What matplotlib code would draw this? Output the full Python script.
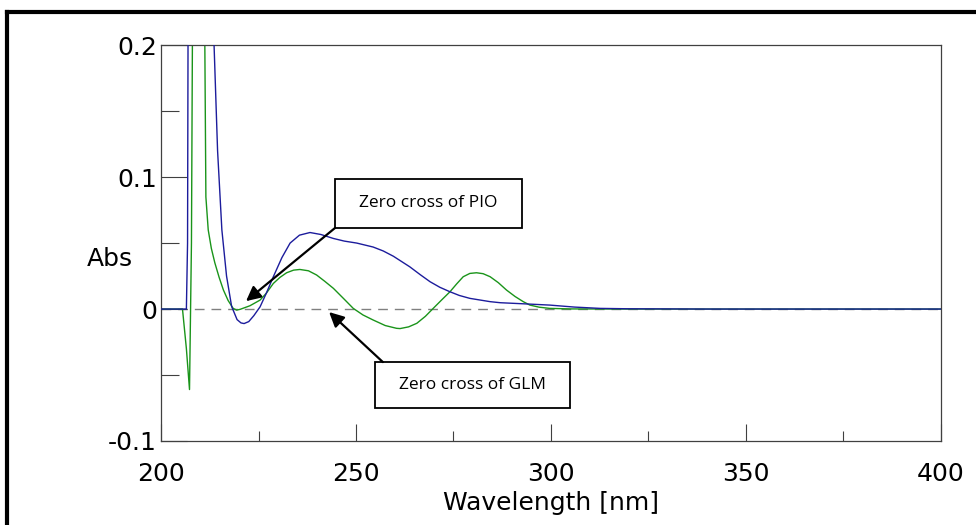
import matplotlib.pyplot as plt
import matplotlib.ticker as ticker
from matplotlib.lines import Line2D
from matplotlib.patches import Rectangle

# wavelength (nm) and derivative absorbance
wl_pio = [200, 205, 206.5, 206.8, 207.0, 213.0, 213.6, 214.5, 215.6, 216.8, 218.1,
          219.5, 220.5, 221.3, 222.5, 223.8, 225.4, 227.0, 228.8, 231.0, 233.1,
          235.5, 238.2, 241.0, 244.2, 247.0, 250.2, 254.4, 257.0, 259.6, 263.8,
          266.5, 269.0, 271.5, 274.1, 276.5, 279.2, 284.4, 287.0, 292.8, 299.7,
          306.0, 312.6, 320, 340, 360, 380, 400]
abs_pio = [0.0, 0.0, 0.0, 0.05, 0.3, 0.3, 0.2, 0.12, 0.060, 0.025, 0.002,
           -0.008, -0.0105, -0.011, -0.0095, -0.005, 0.0017, 0.012, 0.0245, 0.039, 0.050,
           0.056, 0.058, 0.0565, 0.0535, 0.0515, 0.050, 0.047, 0.044, 0.040, 0.032,
           0.026, 0.0207, 0.0165, 0.0131, 0.0103, 0.0081, 0.0056, 0.0048, 0.0040, 0.0030,
           0.0015, 0.0005, 0.0002, 0.0, 0.0, 0.0, 0.0]

wl_glm = [200, 205.5, 206.5, 207.3, 207.8, 208.2, 211.0, 211.5, 212.1, 212.9, 213.8,
          214.9, 216.0, 217.2, 218.5, 219.4, 220.3, 222.8, 225.4, 227.0, 228.8,
          230.5, 232.2, 234.0, 235.6, 237.8, 239.9, 242.0, 244.2, 246.8, 249.3,
          251.8, 254.4, 257.5, 260.4, 261.3, 263.5, 265.6, 267.8, 269.8, 272.0,
          274.1, 275.8, 277.5, 279.2, 280.9, 282.6, 284.4, 286.5, 288.6, 290.8,
          292.9, 294.6, 297.0, 299.7, 305, 320, 350, 400]
abs_glm = [0.0, 0.0, -0.03, -0.061, 0.05, 0.3, 0.3, 0.085, 0.060, 0.046, 0.035,
           0.024, 0.0144, 0.0065, 0.0005, -0.0008, -0.0002, 0.0025, 0.0068, 0.012, 0.0194,
           0.024, 0.0275, 0.0295, 0.030, 0.029, 0.0258, 0.021, 0.0157, 0.008, 0.0005,
           -0.0045, -0.0083, -0.0125, -0.0146, -0.0148, -0.0135, -0.0108, -0.0055, 0.0005, 0.007,
           0.0131, 0.019, 0.0245, 0.027, 0.0275, 0.0268, 0.0245, 0.020, 0.0144, 0.0095,
           0.0056, 0.0030, 0.0014, 0.0005, 0.0001, 0.0, 0.0, 0.0]

x_ticks = [200, 250, 300, 350, 400]
y_ticks = [-0.1, 0.0, 0.1, 0.2]
y_tick_labels = ['-0.1', '0', '0.1', '0.2']

fig = plt.figure(figsize=(9.76, 5.25), dpi=100)
ax = fig.add_axes([0.165, 0.16, 0.799, 0.754])

ax.axhline(0, color='#808080', lw=1, dashes=(7, 5), zorder=1)
ax.plot(wl_pio, abs_pio, color='#1c1c9c', lw=1, zorder=3)
ax.plot(wl_glm, abs_glm, color='#1a941a', lw=1, zorder=2)

ax.set_xlim(200, 400)
ax.set_ylim(-0.1, 0.2)
ax.set_xticks(x_ticks)
ax.set_yticks(y_ticks)
ax.set_yticklabels(y_tick_labels)
ax.xaxis.set_minor_locator(ticker.MultipleLocator(25))
ax.yaxis.set_minor_locator(ticker.MultipleLocator(0.05))
ax.tick_params(axis='x', which='major', direction='in', length=12, width=0.8,
               color='#404040', pad=15, labelsize=18)
ax.tick_params(axis='x', which='minor', direction='in', length=7, width=0.8, color='#404040')
ax.tick_params(axis='y', which='major', direction='in', length=19, width=0.8,
               color='#404040', pad=3, labelsize=18)
ax.tick_params(axis='y', which='minor', direction='in', length=13, width=0.8, color='#404040')
for s in ax.spines.values():
    s.set_color('#404040')
    s.set_linewidth(0.9)

ax.set_xlabel('Wavelength [nm]', fontsize=18, labelpad=4)
ax.set_ylabel('Abs', fontsize=18, rotation=0, ha='center', va='center')
ax.yaxis.set_label_coords(-0.065, 0.46)

# callout boxes with arrows
note_font = dict(family='Open Sans', fontsize=12.5)
ax.add_patch(Rectangle((244.6, 0.0614), 47.9, 0.0371, fill=False, ec='black', lw=1.3, zorder=5))
ax.text(268.5, 0.080, 'Zero cross of PIO', ha='center', va='center', **note_font, zorder=6)
ax.annotate('', xy=(221.8, 0.006), xytext=(244.6, 0.0614),
            arrowprops=dict(arrowstyle='-|>', color='black', lw=1.6,
                            mutation_scale=22, shrinkA=0, shrinkB=0), zorder=6)

ax.add_patch(Rectangle((254.9, -0.075), 50.0, 0.0348, fill=False, ec='black', lw=1.3, zorder=5))
ax.text(279.9, -0.0576, 'Zero cross of GLM', ha='center', va='center', **note_font, zorder=6)
ax.annotate('', xy=(243.1, -0.0023), xytext=(256.9, -0.0402),
            arrowprops=dict(arrowstyle='-|>', color='black', lw=1.6,
                            mutation_scale=22, shrinkA=0, shrinkB=0), zorder=6)

# thick outer frame (left and top edges visible)
fig.add_artist(Line2D([7 / 976, 7 / 976], [0, 1 - 11.5 / 525], color='black', lw=3,
                      transform=fig.transFigure, solid_capstyle='projecting'))
fig.add_artist(Line2D([7 / 976, 1], [1 - 11.5 / 525, 1 - 11.5 / 525], color='black', lw=3,
                      transform=fig.transFigure, solid_capstyle='projecting'))

fig.savefig('out.png', dpi=100)
